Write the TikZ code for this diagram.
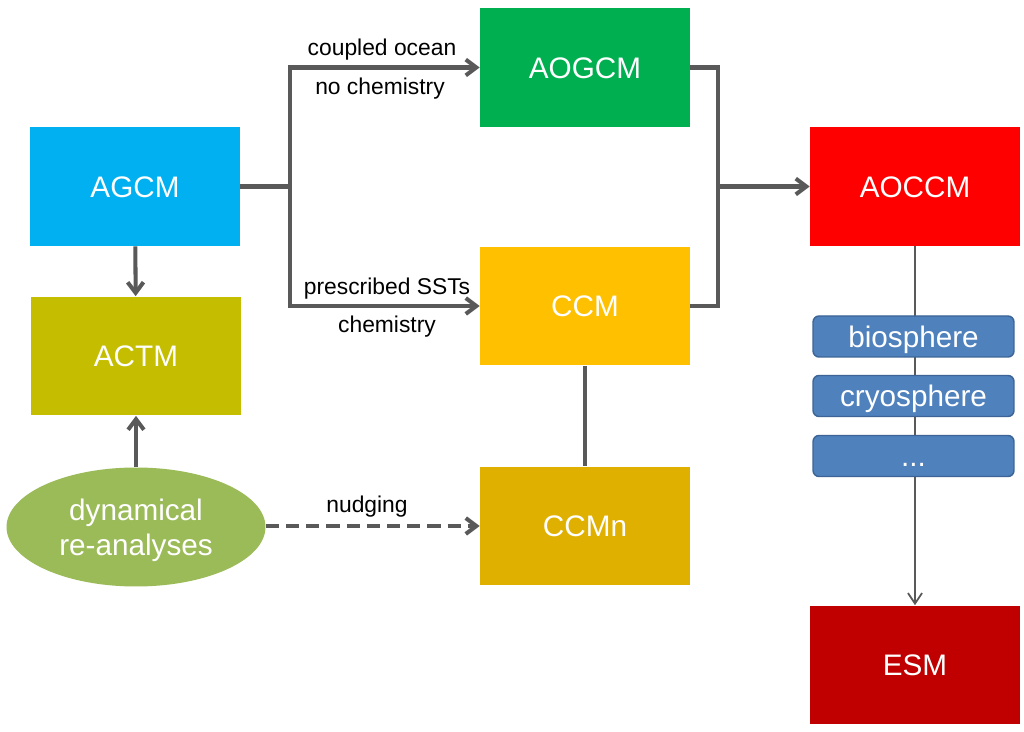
\documentclass[tikz,border=0pt]{standalone}
\usepackage{fontspec}
\setmainfont{Liberation Sans}
\usepackage{xcolor}
\usepackage{tikz}
\usetikzlibrary{
  arrows.meta,
  positioning,
  shapes.geometric
}
\definecolor{agcmblue}{RGB}{0, 176, 240}
\definecolor{actmolive}{RGB}{197, 190, 0}
\definecolor{aogcmgreen}{RGB}{0, 176, 80}
\definecolor{ccmyellow}{RGB}{255, 192, 0}
\definecolor{ccmnyellow}{RGB}{224, 176, 0}
\definecolor{aoccmred}{RGB}{255, 0, 0}
\definecolor{esmred}{RGB}{192, 0, 0}
\definecolor{reanagreen}{RGB}{155, 187, 89}
\definecolor{subblue}{RGB}{79, 129, 189}
\definecolor{subedge}{RGB}{60, 100, 150}
\definecolor{linegray}{RGB}{89, 89, 89}

\begin{document}
\begin{tikzpicture}[
  x=0.02cm, y=-0.02cm,
  mbox/.style={draw=none, minimum width=4.2cm, minimum height=2.38cm, inner sep=0pt,
               text height=12.2pt, text depth=0pt,
               font=\fontsize{16.9}{20}\selectfont, text=white},
  rean/.style={ellipse, fill=reanagreen, minimum width=5.18cm, minimum height=2.38cm,
               inner sep=0pt, align=center, text depth=0pt,
               font=\fontsize{16.9}{20}\selectfont, text=white},
  sbox/.style={draw=subedge, fill=subblue, line width=0.8pt, rounded corners=3.4pt,
               minimum width=4.02cm, minimum height=0.82cm, inner sep=0pt,
               text height=12.2pt, text depth=0pt,
               font=\fontsize{16.9}{20}\selectfont, text=white},
  conn/.style={draw=linegray, line width=2.3pt},
  thinconn/.style={draw=linegray, line width=1pt},
  arr/.style={-{Straight Barb[length=6pt, width=9pt]}},
  thinarr/.style={-{Straight Barb[length=6pt, width=8pt]}},
  lbl/.style={font=\fontsize{13}{15}\selectfont, text=black,
              text height=9.5pt, text depth=0pt}
]
\useasboundingbox[fill=white] (0,0) rectangle (1024,732);

% blocks
\node[mbox, fill=agcmblue]   (agcm)  at (135, 186.5) {AGCM};
\node[mbox, fill=actmolive]  (actm)  at (136, 356)   {ACTM};
\node[rean]                  (reana) at (136, 527)   {dynamical\\re-analyses};
\node[mbox, fill=aogcmgreen] (aogcm) at (585, 67.5)  {AOGCM};
\node[mbox, fill=ccmyellow]  (ccm)   at (585, 306)   {CCM};
\node[mbox, fill=ccmnyellow] (ccmn)  at (585, 526)   {CCMn};
\node[mbox, fill=aoccmred]   (aoccm) at (915, 186.5) {AOCCM};
\node[mbox, fill=esmred]     (esm)   at (915, 665)   {ESM};

% junction points
\coordinate (forkL) at (290, 186.5);
\coordinate (forkR) at (718, 186.5);

% AGCM branches
\draw[conn] (agcm.east) -- (forkL);
\draw[conn, arr] (forkL) |- (aogcm.west);
\draw[conn, arr] (forkL) |- (ccm.west);
\node[lbl] (lcoupled) at (382, 47)    {coupled ocean};
\node[lbl] (lnochem)  at (380, 86.6)  {no chemistry};
\node[lbl] (lpresc)   at (387, 286.6) {prescribed SSTs};
\node[lbl] (lchem)    at (387, 324.6) {chemistry};

% merge into AOCCM
\draw[conn] (aogcm.east) -| (forkR);
\draw[conn] (ccm.east) -| (forkR);
\draw[conn, arr] (forkR) -- (aoccm.west);

% left column
\draw[conn, arr] (agcm) -- (actm);
\draw[conn, arr] (reana) -- (actm);
\draw[conn, arr, dash pattern=on 7.5pt off 4pt] (reana.east |- ccmn) -- (ccmn);
\node[lbl] (lnudge) at (367, 504.6) {nudging};
\draw[conn] (ccm) -- (ccmn);

% AOCCM to ESM, sub-components on top
\draw[thinconn, thinarr] (aoccm) -- (esm);
\node[sbox] (bio)  at (913.5, 336.5) {biosphere};
\node[sbox] (cryo) at (913.5, 396)   {cryosphere};
\node[sbox] (more) at (913.5, 456)   {...};

\end{tikzpicture}
\end{document}
